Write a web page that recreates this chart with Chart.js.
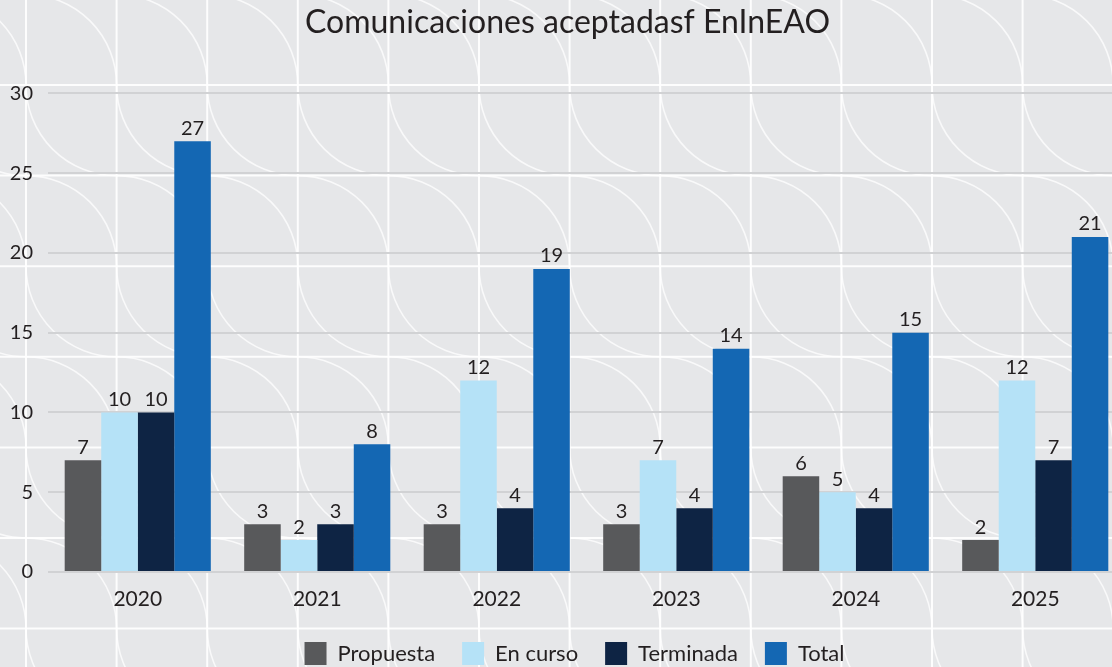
<!DOCTYPE html>
<html>
<head>
<meta charset="utf-8">
<script src="https://cdn.jsdelivr.net/npm/chart.js@4.4.1/dist/chart.umd.min.js"></script>
<style>
  html, body { margin: 0; padding: 0; background: #e6e7e9; overflow: hidden; }
  #wrap { position: relative; width: 1125px; height: 667px; }
</style>
</head>
<body>
<div id="wrap"><canvas id="c"></canvas></div>
<script>
const categories = ['2020', '2021', '2022', '2023', '2024', '2025'];
const propuesta = [7, 3, 3, 3, 6, 2];
const enCurso = [10, 2, 12, 7, 5, 12];
const terminada = [10, 3, 4, 4, 4, 7];
const total = [27, 8, 19, 14, 15, 21];
const seriesNames = ['Propuesta', 'En curso', 'Terminada', 'Total'];
const seriesColors = ['#58595b', '#b5e2f7', '#0e2444', '#1467b3'];
const titleText = 'Comunicaciones aceptadasf EnInEAO';
const yMax = 30;
const yStep = 5;

const FONT = 'Lato, "Open Sans", sans-serif';
const TEXT = '#231f20';

const bgPattern = {
  id: 'bgPattern',
  beforeDraw(chart) {
    const ctx = chart.ctx;
    const W = chart.width, H = chart.height;
    ctx.save();
    ctx.fillStyle = '#e6e7e9';
    ctx.fillRect(0, 0, W, H);
    const s = 90.6, ox = 26, oy = -5.6;
    ctx.strokeStyle = 'rgba(255,255,255,0.75)';
    ctx.lineWidth = 1.6;
    for (let r = 0; r < 9; r++) {
      const y0 = oy + r * s;
      for (let c = -1; c < 14; c++) {
        const x0 = ox + c * s;
        ctx.beginPath();
        if (r % 2 === 0) {
          ctx.arc(x0, y0 + s, s, -Math.PI / 2, 0);
        } else {
          ctx.arc(x0 + s, y0, s, Math.PI / 2, Math.PI);
        }
        ctx.stroke();
      }
    }
    ctx.strokeStyle = 'rgba(255,255,255,0.9)';
    ctx.lineWidth = 2;
    for (let c = -1; c < 14; c++) {
      const x = ox + c * s;
      ctx.beginPath(); ctx.moveTo(x, 0); ctx.lineTo(x, H); ctx.stroke();
    }
    for (let r = 0; r < 9; r++) {
      const y = oy + r * s;
      ctx.beginPath(); ctx.moveTo(0, y); ctx.lineTo(W, y); ctx.stroke();
    }
    ctx.restore();
  }
};

// nudge title and legend to match the reference placement
const nudge = {
  id: 'nudge',
  afterLayout(chart) {
    if (chart.titleBlock) { chart.titleBlock.left += 5; chart.titleBlock.right += 5; }
    if (chart.legend) {
      chart.legend.left += 12; chart.legend.right += 12;
      chart.legend.top += 8; chart.legend.bottom += 8;
    }
  }
};

const valueLabels = {
  id: 'valueLabels',
  afterDatasetsDraw(chart) {
    const ctx = chart.ctx;
    ctx.save();
    ctx.font = '20px ' + FONT;
    ctx.fillStyle = TEXT;
    ctx.textAlign = 'center';
    ctx.textBaseline = 'bottom';
    chart.data.datasets.forEach((ds, i) => {
      const meta = chart.getDatasetMeta(i);
      meta.data.forEach((bar, j) => {
        ctx.fillText(String(ds.data[j]), bar.x, bar.y - 3);
      });
    });
    ctx.restore();
  }
};

const seriesData = [propuesta, enCurso, terminada, total];

new Chart(document.getElementById('c'), {
  type: 'bar',
  data: {
    labels: categories,
    datasets: seriesNames.map((name, i) => ({
      label: name,
      data: seriesData[i],
      backgroundColor: seriesColors[i],
      borderWidth: 0,
      barPercentage: 1,
      categoryPercentage: 0.814
    }))
  },
  options: {
    responsive: true,
    maintainAspectRatio: false,
    animation: false,
    layout: { padding: { left: 0, right: 0, top: 0, bottom: 0 } },
    plugins: {
      title: {
        display: true,
        text: titleText,
        color: TEXT,
        font: { family: FONT, size: 32, weight: 'normal' },
        padding: { top: 3, bottom: 52 }
      },
      legend: {
        position: 'bottom',
        labels: {
          color: TEXT,
          font: { family: FONT, size: 22 },
          boxWidth: 22,
          boxHeight: 23,
          padding: 27
        }
      },
      tooltip: { enabled: false }
    },
    scales: {
      x: {
        grid: { display: false, drawTicks: false },
        border: { display: false },
        ticks: { color: TEXT, font: { family: FONT, size: 21 }, padding: 15 },
        afterFit(scale) { scale.height = 35; }
      },
      y: {
        min: 0,
        max: yMax,
        ticks: { stepSize: yStep, color: TEXT, font: { family: FONT, size: 20 }, padding: 15 },
        grid: { color: '#d1d2d4', lineWidth: 2, drawTicks: false },
        border: { display: false },
        afterFit(scale) { scale.width = 48; }
      }
    }
  },
  plugins: [bgPattern, nudge, valueLabels]
});
</script>
</body>
</html>
